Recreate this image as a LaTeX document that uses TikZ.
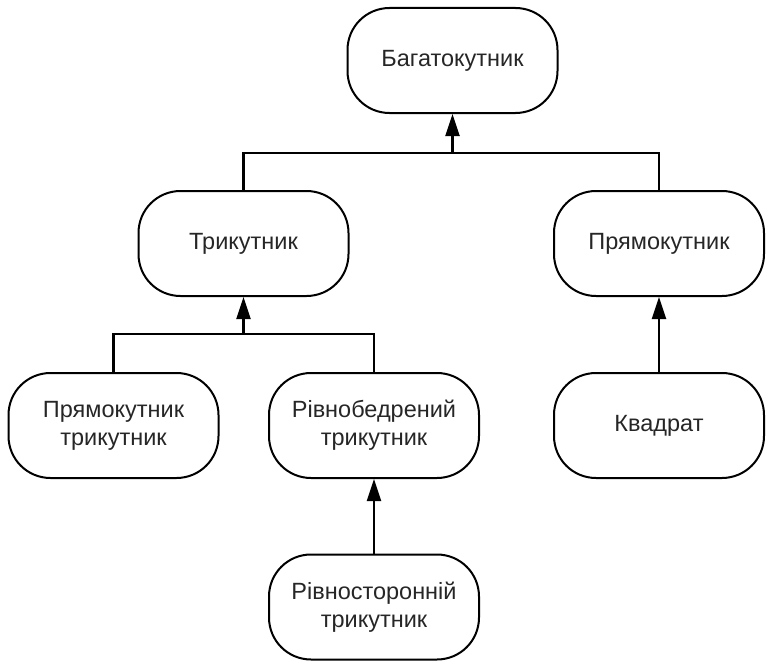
\documentclass[tikz,border=0pt]{standalone}
\usepackage{fontspec}
\setmainfont{Liberation Sans}
\usetikzlibrary{arrows.meta}
\begin{document}
\begin{tikzpicture}[x=1pt,y=-1pt,
  box/.style={draw=black,line width=2pt,rounded corners=42pt,minimum width=210pt,minimum height=105pt,align=center,font=\fontsize{23.5}{28}\selectfont,text=black!85,inner sep=0pt},
  conn/.style={line width=2.3pt},
  arr/.style={line width=2.3pt,-{Triangle[length=22pt,width=14pt]}}]
\useasboundingbox (0,0) rectangle (769,661);
\node[box] (A) at (452.5,60.5) {Багатокутник};
\node[box] (T) at (243.5,243.5) {Трикутник};
\node[box] (P) at (659,243.5) {Прямокутник};
\node[box] (PT) at (113.5,425.5) {Прямокутник\\трикутник};
\node[box] (RB) at (374,425.5) {Рівнобедрений\\трикутник};
\node[box] (K) at (659,425.5) {Квадрат};
\node[box] (RS) at (374,607) {Рівносторонній\\трикутник};
\coordinate (j1) at (452.5,153);
\coordinate (j2) at (243.5,334);
\draw[conn] (T.north) |- (j1) -| (P.north);
\draw[arr] (j1) -- (A.south);
\draw[conn] (PT.north) |- (j2) -| (RB.north);
\draw[arr] (j2) -- (T.south);
\draw[arr] (K.north) -- (P.south);
\draw[arr] (RS.north) -- (RB.south);
\end{tikzpicture}
\end{document}
